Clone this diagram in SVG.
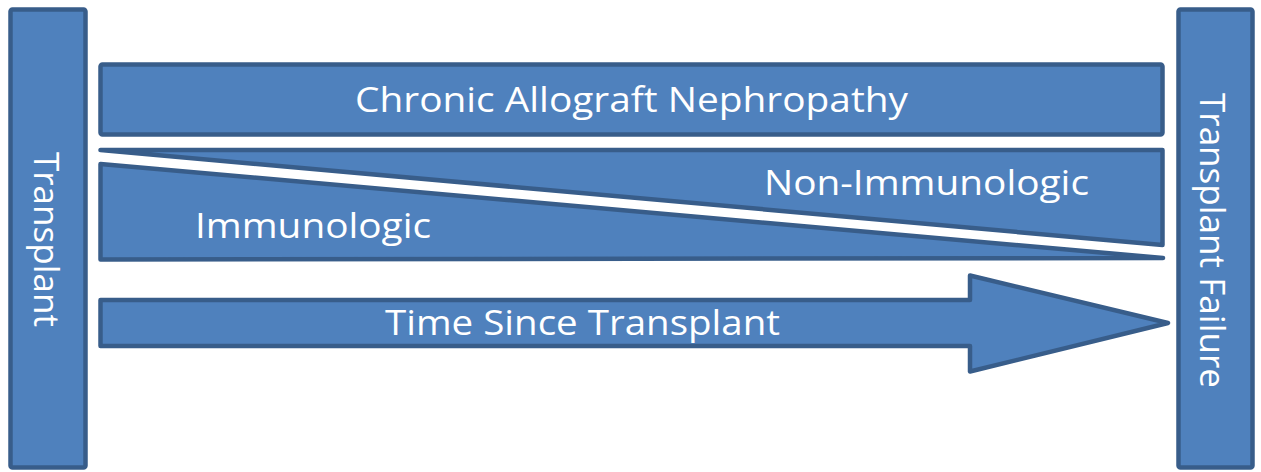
<svg xmlns="http://www.w3.org/2000/svg" width="1261" height="472" viewBox="0 0 1261 472">
<style>
.shape{fill:#4F81BD;stroke:#385D8A;stroke-width:4.5;stroke-linejoin:round}
.lbl{font-family:"Open Sans","Liberation Sans",sans-serif;font-size:35px;fill:#FFFFFF}
</style>
<rect width="1261" height="472" fill="#FFFFFF"/>
<g id="transplant">
<rect class="shape" x="10.5" y="9.5" width="75" height="458" rx="2"/>
<text class="lbl" transform="translate(34,152) rotate(90)" textLength="175" lengthAdjust="spacingAndGlyphs">Transplant</text>
</g>
<g id="transplant-failure">
<rect class="shape" x="1178.5" y="9.5" width="74" height="458" rx="2"/>
<text class="lbl" transform="translate(1200,93) rotate(90)" textLength="295" lengthAdjust="spacingAndGlyphs">Transplant Failure</text>
</g>
<g id="chronic">
<rect class="shape" x="100.5" y="64.5" width="1062" height="70" rx="2"/>
<text class="lbl" x="355" y="112" textLength="553" lengthAdjust="spacingAndGlyphs">Chronic Allograft Nephropathy</text>
</g>
<g id="non-immunologic">
<polygon class="shape" points="100.5,150 1162.5,150 1162.5,245"/>
<text class="lbl" x="764" y="195" textLength="325" lengthAdjust="spacingAndGlyphs">Non-Immunologic</text>
</g>
<g id="immunologic">
<polygon class="shape" points="100.5,164 1163,258 100.5,259.5"/>
<text class="lbl" x="195" y="238" textLength="236" lengthAdjust="spacingAndGlyphs">Immunologic</text>
</g>
<g id="connectors">
<g id="time-arrow">
<polygon class="shape" points="100.5,300 970,300 970,275.5 1168,323 970,371.5 970,346 100.5,346"/>
<text class="lbl" x="385" y="335" textLength="395" lengthAdjust="spacingAndGlyphs">Time Since Transplant</text>
</g>
</g>
</svg>
